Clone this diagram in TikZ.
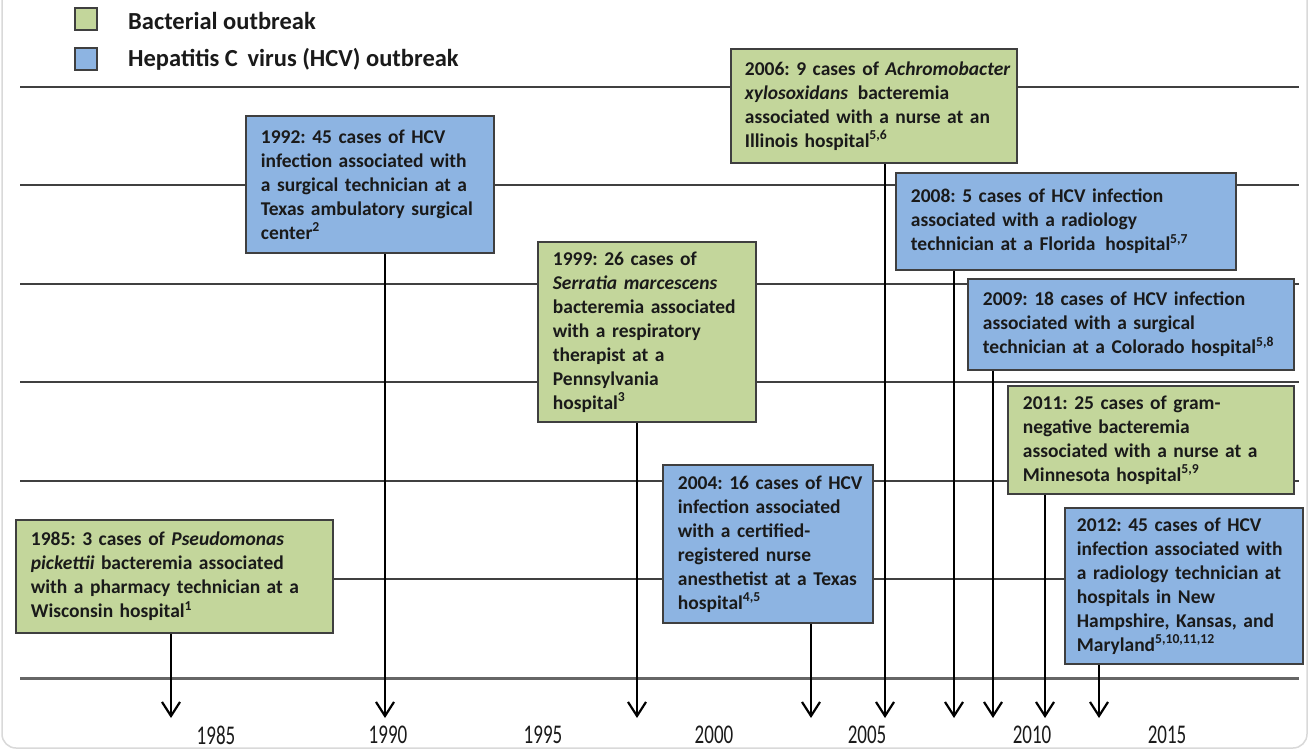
\documentclass[tikz,border=0pt]{standalone}
\usepackage{fontspec}
\setmainfont{Carlito}
\usetikzlibrary{arrows.meta}
\definecolor{bactgreen}{HTML}{C3D69B}
\definecolor{hcvblue}{HTML}{8DB4E2}
\definecolor{edgegray}{HTML}{3F3F3F}
\definecolor{txt}{HTML}{1A1A1A}
\newcommand{\tline}[1]{\mbox{#1}}
\tikzset{
  evbox/.style={draw=edgegray, line width=1.8pt, anchor=north west, align=left,
    inner xsep=15pt, inner ysep=6pt, text=txt,
    font=\fontsize{19.5}{24}\selectfont\bfseries\frenchspacing},
  bact/.style={evbox, fill=bactgreen},
  hcv/.style={evbox, fill=hcvblue},
  legsq/.style={draw=edgegray, line width=1.5pt, minimum width=22pt, minimum height=22pt, inner sep=0pt},
  legtxt/.style={anchor=west, text=txt, inner sep=0pt, font=\fontsize{24.5}{28}\selectfont\bfseries},
  grid/.style={draw=black!75, line width=1.4pt},
  arr/.style={draw=black, line width=2.6pt, -{Straight Barb[length=14pt,width=18pt,line width=2.2pt]}},
  yr/.style={text=txt, font=\fontsize{20}{24}\selectfont}
}
\begin{document}
\begin{tikzpicture}[x=1pt,y=-1pt]
\useasboundingbox (0,0) rectangle (1309,750);
\fill[white] (0,0) rectangle (1309,750);
\draw[black!15, line width=1.5pt, rounded corners=14pt] (2,-30) rectangle (1307,748);
% grid lines
\foreach \yy in {87,185,284,382,481,579} {\draw[grid] (20,\yy) -- (1299,\yy);}
\draw[black!60, line width=3pt] (20,678) -- (1299,678);
% legend
\node[legsq, fill=bactgreen] (lg1) at (86,19) {};
\node[legsq, fill=hcvblue] (lg2) at (86,59) {};
\node[legtxt] (lt1) at (128,21) {Bacterial outbreak};
\node[legtxt] (lt2) at (128,59) {Hepatitis C\, virus (HCV) outbreak};
% event boxes
\node[bact, minimum width=317pt, minimum height=113pt, text width=287pt] (b85) at (15,519)
  {\tline{1985: 3 cases of \textit{Pseudomonas}}\\ \tline{\textit{pickettii} bacteremia associated}\\ \tline{with a pharmacy technician at a}\\ \tline{Wisconsin hospital\textsuperscript{1}}};
\node[hcv, minimum width=248pt, minimum height=137pt, text width=218pt] (b92) at (245,115)
  {\tline{1992: 45 cases of HCV}\\ \tline{infection associated with}\\ \tline{a surgical technician at a}\\ \tline{Texas ambulatory surgical}\\ \tline{center\textsuperscript{2}}};
\node[bact, minimum width=218pt, minimum height=180pt, text width=188pt] (b99) at (537,241)
  {\tline{1999: 26 cases of}\\ \tline{\textit{Serratia marcescens}}\\ \tline{bacteremia associated}\\ \tline{with a respiratory}\\ \tline{therapist at a}\\ \tline{Pennsylvania}\\ \tline{hospital\textsuperscript{3}}};
\node[hcv, minimum width=210pt, minimum height=158pt, text width=180pt] (b04) at (662,464)
  {\tline{2004: 16 cases of HCV}\\ \tline{infection associated}\\ \tline{with a certified-}\\ \tline{registered nurse}\\ \tline{anesthetist at a Texas}\\ \tline{hospital\textsuperscript{4,5}}};
\node[bact, minimum width=286pt, minimum height=114pt, text width=258pt, inner xsep=14pt] (b06) at (730,48)
  {\tline{2006: 9 cases of \textit{Achromobacter}}\\ \tline{\textit{xylosoxidans}\enspace bacteremia}\\ \tline{associated with a nurse at an}\\ \tline{Illinois hospital\textsuperscript{5,6}}};
\node[hcv, minimum width=340pt, minimum height=97pt, text width=310pt] (b08) at (895,172)
  {\tline{2008: 5 cases of HCV infection}\\ \tline{associated with a radiology}\\ \tline{technician at a Florida\, hospital\textsuperscript{5,7}}};
\node[hcv, minimum width=326pt, minimum height=91pt, text width=296pt] (b09) at (967,278)
  {\tline{2009: 18 cases of HCV infection}\\ \tline{associated with a surgical}\\ \tline{technician at a Colorado hospital\textsuperscript{5,8}}};
\node[bact, minimum width=286pt, minimum height=108pt, text width=256pt] (b11) at (1007,385)
  {\tline{2011: 25 cases of gram-}\\ \tline{negative bacteremia}\\ \tline{associated with a nurse at a}\\ \tline{Minnesota hospital\textsuperscript{5,9}}};
\node[hcv, minimum width=238pt, minimum height=156pt, text width=214pt, inner xsep=12pt] (b12) at (1064,507)
  {\tline{2012: 45 cases of HCV}\\ \tline{infection associated with}\\ \tline{a radiology technician at}\\ \tline{hospitals in New}\\ \tline{Hampshire, Kansas, and}\\ \tline{Maryland\textsuperscript{5,10,11,12}}};
% arrow tips
\coordinate (t85) at (171,718);
\coordinate (t92) at (385,718);
\coordinate (t99) at (637,718);
\coordinate (t04) at (811,718);
\coordinate (t06) at (885,718);
\coordinate (t08) at (954,718);
\coordinate (t09) at (993,718);
\coordinate (t11) at (1045,718);
\coordinate (t12) at (1099,718);
\draw[arr] (b85.south -| t85) -- (t85);
\draw[arr] (b92.south -| t92) -- (t92);
\draw[arr] (b99.south -| t99) -- (t99);
\draw[arr] (b04.south -| t04) -- (t04);
\draw[arr] (b06.south -| t06) -- (t06);
\draw[arr] (b08.south -| t08) -- (t08);
\draw[arr] (b09.south -| t09) -- (t09);
\draw[arr] (b11.south -| t11) -- (t11);
\draw[arr] (b12.south -| t12) -- (t12);
% year labels
\node[yr] (y85) at (216,735) {\scalebox{0.95}[1.35]{1985}};
\node[yr] (y90) at (388,735) {\scalebox{0.95}[1.35]{1990}};
\node[yr] (y95) at (543,735) {\scalebox{0.95}[1.35]{1995}};
\node[yr] (y00) at (714,735) {\scalebox{0.95}[1.35]{2000}};
\node[yr] (y05) at (867,735) {\scalebox{0.95}[1.35]{2005}};
\node[yr] (y10) at (1032,735) {\scalebox{0.95}[1.35]{2010}};
\node[yr] (y15) at (1167,735) {\scalebox{0.95}[1.35]{2015}};
\end{tikzpicture}
\end{document}
